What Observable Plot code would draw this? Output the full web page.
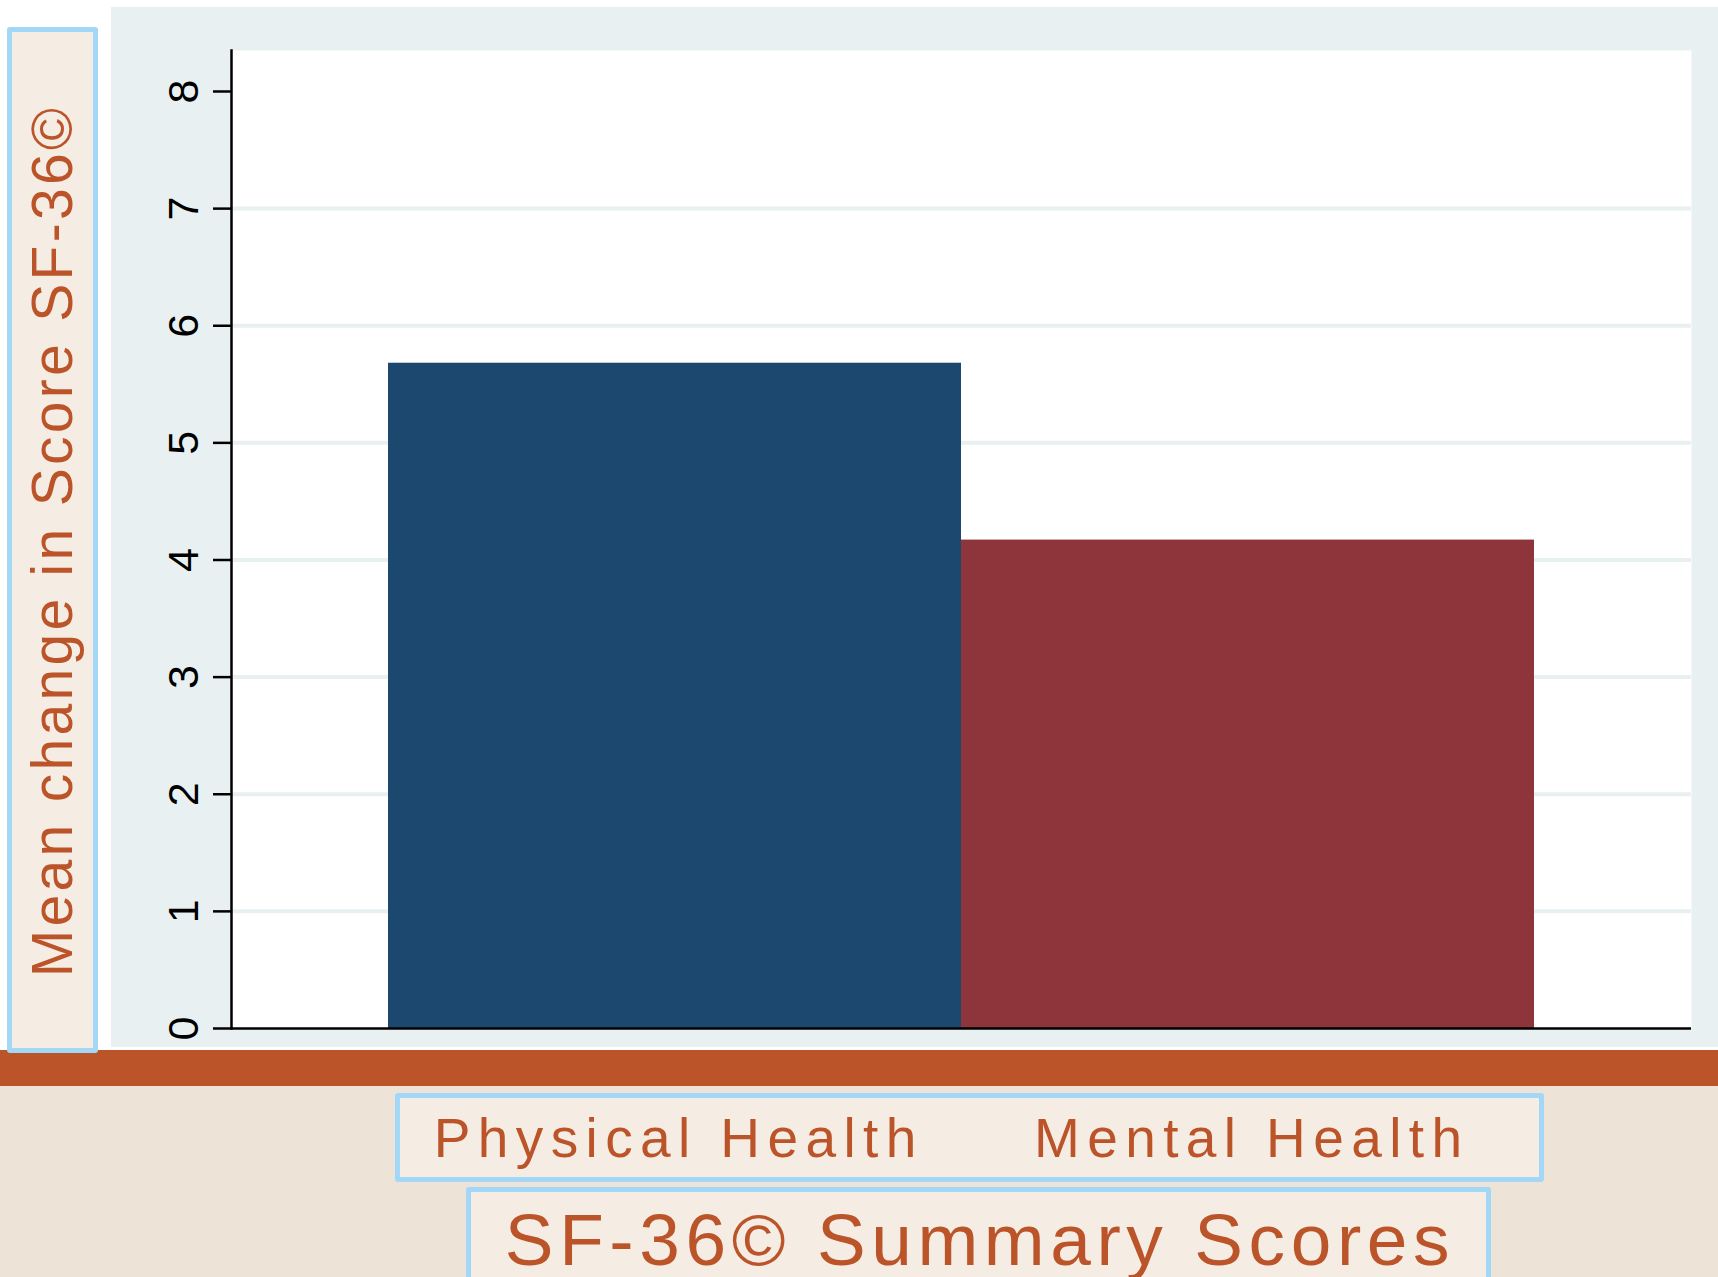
<!DOCTYPE html>
<html>
<head>
<meta charset="utf-8">
<script src="https://cdn.jsdelivr.net/npm/d3@7"></script>
<script src="https://cdn.jsdelivr.net/npm/@observablehq/plot@0.6"></script>
<style>
  html, body { margin: 0; padding: 0; background: #ffffff; }
  #page { position: relative; width: 1718px; height: 1277px; overflow: hidden; font-family: "Liberation Sans", Arial, sans-serif; }
  .abs { position: absolute; box-sizing: border-box; }
  #panel { left: 111px; top: 7px; width: 1607px; height: 1040px; background: #e8f0f2; }
  #band { left: 0; top: 1050px; width: 1718px; height: 36px; background: #bb5428; }
  #beige { left: 0; top: 1086px; width: 1718px; height: 191px; background: #eee3d7; }
  .box { background: #f5ece4; border: 5px solid #a2d7f8; border-radius: 3px; }
  #ybox { left: 7px; top: 27px; width: 91px; height: 1026px; }
  #catbox { left: 395px; top: 1093px; width: 1149px; height: 89px; }
  #xbox { left: 466px; top: 1187px; width: 1025px; height: 130px; }
  #chart { left: 0; top: 0; width: 1718px; height: 1277px; }
  .title { position: absolute; white-space: nowrap; color: #bb5428; line-height: 1; }
  #ytitle { left: 52px; top: 541px; font-size: 57px; letter-spacing: 3.3px; transform: translate(-50%, -50%) rotate(-90deg); }
  #xtitle { left: 980px; top: 1203px; font-size: 73px; letter-spacing: 5.6px; transform: translateX(-50%); }
</style>
</head>
<body>
<div id="page">
  <div class="abs" id="panel"></div>
  <div class="abs" id="band"></div>
  <div class="abs" id="beige"></div>
  <div class="abs box" id="catbox"></div>
  <div class="abs box" id="xbox"></div>
  <div class="abs" id="chart"></div>
  <div class="abs box" id="ybox"></div>
  <div class="title" id="ytitle">Mean change in Score SF-36©</div>
  <div class="title" id="xtitle">SF-36© Summary Scores</div>
</div>
<script>
const categories = ["Physical Health", "Mental Health"];
const values = [5.68, 4.17];
const barColors = ["#1c4870", "#8e353c"];
const yTicks = [0, 1, 2, 3, 4, 5, 6, 7, 8];
const gridValues = [1, 2, 3, 4, 5, 6, 7];
const yMax = 8.35;

const data = categories.map((c, i) => ({category: c, value: values[i]}));

const chart = Plot.plot({
  width: 1718,
  height: 1277,
  marginLeft: 231,
  marginRight: 27,
  marginTop: 50,
  marginBottom: 249,
  style: {background: "transparent", fontFamily: "'Liberation Sans', Arial, sans-serif", overflow: "visible"},
  x: {domain: categories, paddingInner: 0, paddingOuter: 0.273, label: null},
  y: {domain: [0, yMax], label: null},
  color: {domain: categories, range: barColors},
  marks: [
    Plot.frame({fill: "white", stroke: "none"}),
    Plot.ruleY(gridValues, {stroke: "#e8f0f2", strokeWidth: 4}),
    Plot.barY(data, {x: "category", y: "value", fill: "category"}),
    Plot.ruleY([0], {stroke: "black", strokeWidth: 2.5}),
    Plot.frame({anchor: "left", stroke: "black", strokeWidth: 2.5}),
    Plot.axisY({ticks: yTicks, tickSize: 18, tickPadding: 16, tickRotate: -90, fontSize: 43, strokeWidth: 2.5, tickFormat: d => String(d), label: null}),
    Plot.axisX({tickSize: 0, tickPadding: 89, fontSize: 55, color: "#bb5428", label: null})
  ]
});

d3.select(chart).selectAll('g[aria-label="x-axis tick label"] text')
  .attr("letter-spacing", 7.4)
  .attr("dx", 3.7);

document.getElementById("chart").appendChild(chart);
</script>
</body>
</html>
